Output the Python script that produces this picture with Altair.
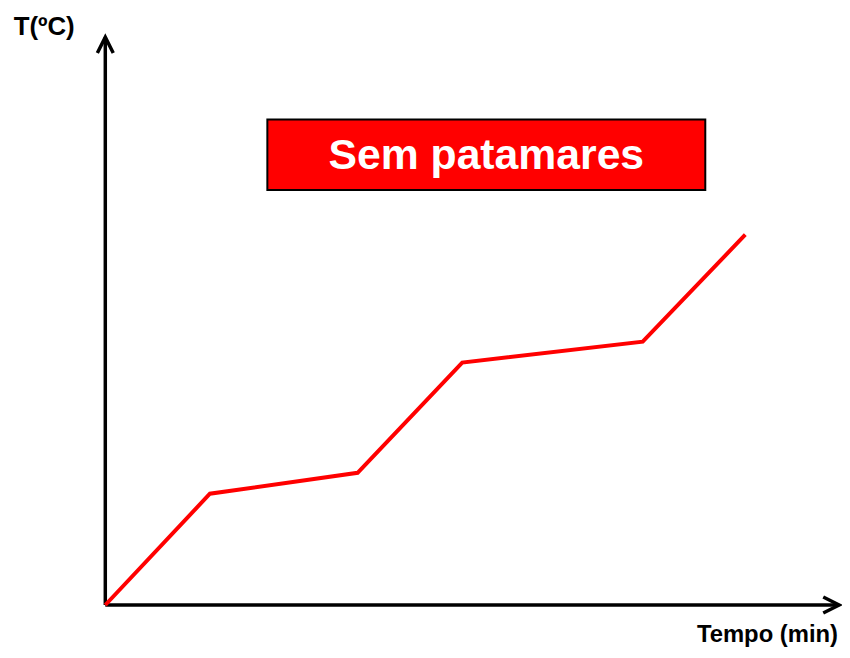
import altair as alt
import pandas as pd

# ---- data (time in minutes, temperature in °C, arbitrary units)
time_min = [0, 10.2, 24.6, 34.8, 52.4, 62.4]
temp_c = [0, 101, 120, 220, 239, 336]

# axis extents (arrow tips)
x_axis_end = 71.55
y_axis_end = 515.3

# annotation box
box_x = [15.8, 58.5]
box_y = [376.6, 440.5]
box_text = "Sem patamares"

y_label = "T(ºC)"
x_label = "Tempo (min)"

FONT = "Liberation Sans"

PX_X = 10.33
ORIG_X = 98.0
W, H = 840, 642
xs = alt.Scale(domain=[-ORIG_X / PX_X, (W - ORIG_X) / PX_X], nice=False, zero=False)
ys = alt.Scale(domain=[-38.74, 539.64], nice=False, zero=False)

curve = pd.DataFrame({"t": time_min, "T": temp_c})

def X(field, **kw):
    return alt.X(field, type="quantitative", scale=xs, axis=None, **kw)

def Y(field, **kw):
    return alt.Y(field, type="quantitative", scale=ys, axis=None, **kw)

x_axis = alt.Chart(pd.DataFrame({"x0": [0], "x1": [x_axis_end], "y": [0]})).mark_rule(
    color="black", strokeWidth=3.5
).encode(x=X("x0"), x2="x1", y=Y("y"))

y_axis = alt.Chart(pd.DataFrame({"x": [0], "y0": [0], "y1": [y_axis_end]})).mark_rule(
    color="black", strokeWidth=3.5
).encode(x=X("x"), y=Y("y0"), y2="y1")

up_arrow = alt.Chart(pd.DataFrame({"x": [0], "y": [y_axis_end]})).mark_point(
    shape="M-1,2L0,0L1,2", filled=False, stroke="black", strokeWidth=3.5,
    size=256, opacity=1, strokeJoin="miter"
).encode(x=X("x"), y=Y("y"))

right_arrow = alt.Chart(pd.DataFrame({"x": [x_axis_end], "y": [0]})).mark_point(
    shape="M-2,-1L0,0L-2,1", filled=False, stroke="black", strokeWidth=3.5,
    size=256, opacity=1, strokeJoin="miter"
).encode(x=X("x"), y=Y("y"))

line = alt.Chart(curve).mark_line(color="#FF0000", strokeWidth=4).encode(
    x=X("t"), y=Y("T")
)

box = alt.Chart(pd.DataFrame({"x0": [box_x[0]], "x1": [box_x[1]],
                              "y0": [box_y[0]], "y1": [box_y[1]]})).mark_rect(
    fill="#FF0000", stroke="black", strokeWidth=2
).encode(x=X("x0"), x2="x1", y=Y("y0"), y2="y1")

box_label = alt.Chart(pd.DataFrame({"x": [(box_x[0] + box_x[1]) / 2],
                                    "y": [(box_y[0] + box_y[1]) / 2],
                                    "s": [box_text]})).mark_text(
    font=FONT, fontSize=43, fontWeight="bold", color="white",
    align="center", baseline="middle", dy=1
).encode(x=X("x"), y=Y("y"), text="s:N")

ylab = alt.Chart(pd.DataFrame({"x": [-8.93], "y": [517.1], "s": [y_label]})).mark_text(
    font=FONT, fontSize=26, fontWeight="bold", color="black",
    align="left", baseline="alphabetic"
).encode(x=X("x"), y=Y("y"), text="s:N")

xlab = alt.Chart(pd.DataFrame({"x": [71.44], "y": [-33.3], "s": [x_label]})).mark_text(
    font=FONT, fontSize=24, fontWeight="bold", color="black",
    align="right", baseline="alphabetic"
).encode(x=X("x"), y=Y("y"), text="s:N")

chart = alt.layer(
    x_axis, y_axis, up_arrow, right_arrow, line, box, box_label, ylab, xlab
).properties(
    width=W, height=H, padding=0,
    autosize=alt.AutoSizeParams(type="none")
).configure(background="white", view=alt.ViewConfig(stroke=None))

chart.save("out.html", embed_options={"renderer": "svg", "actions": False})
